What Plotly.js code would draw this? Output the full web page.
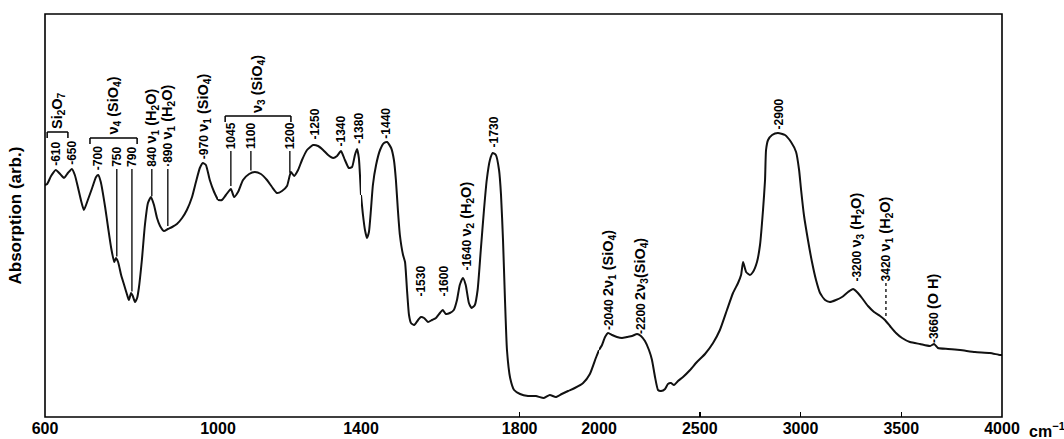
<!DOCTYPE html>
<html><head><meta charset="utf-8">
<script src="https://cdn.plot.ly/plotly-3.0.1.min.js"></script>
<style>html,body{margin:0;padding:0;background:#fff}#chart{width:1064px;height:439px}</style>
</head><body><div id="chart"></div>
<script>
// Spectrum (wavenumber in cm^-1, absorption in arbitrary units)
const wavenumber = [
600,605,614,625,635,644,653,662,669,676,683,690,699,709,718,723,729,739,746,753,760,764,769,776,783,790,794,799,803,808,813,817,824,831,838,845,852,859,866,875,884,894,905,917,928,940,949,958,965,972,981,991,1000,
1011,1022,1036,1045,1056,1070,1087,1103,1120,1137,1151,1165,1179,1193,1204,1213,1224,1235,1249,1266,1280,1294,1308,1322,1333,1344,1355,1366,1375,1383,1389,1394,1400,
1405,1410,1415,1420,1425,1430,1438,1448,1458,1466,1476,1483,1488,1493,1498,1506,1511,1516,1521,1526,1534,1544,1551,1559,1569,1579,1589,1599,1606,1614,1624,1634,1642,1649,1657,1664,1672,1679,1687,1694,1702,1710,1717,1725,1732,1740,1748,1753,1758,1763,1768,1776,1786,1801,1821,1841,1861,1876,1891,1906,1922,1939,1960,1977,1992,2000,
2015,2030,2045,2065,2089,2114,2139,2164,2189,2208,2228,2248,2263,2278,2293,2308,2328,2342,2357,2372,2392,2417,2452,2486,2526,2566,2600,2635,2665,2690,2705,2715,2730,2749,2764,2784,2799,2814,2824,2829,2839,2859,2888,2923,2953,2978,2993,3003,3017,3037,3057,3077,3097,3122,3146,3176,3206,3236,3261,3280,3305,3335,3365,3395,3419,3444,3474,3504,3543,3593,3643,3663,3682,3732,3792,3866,3940,3990,4000];
const absorption = [
232,233,241,247,243,239,244,248,242,230,217,207,217,229,240,242,235,210,189,169,155,159,155,142,132,122,117,124,121,115,119,129,157,192,214,220,212,199,191,186,188,190,193,199,207,220,235,249,254,252,237,225,217,
217,222,228,220,225,237,243,245,243,237,230,224,226,231,245,241,247,257,267,272,271,267,262,259,261,266,257,249,250,262,268,259,222,
202,187,179,185,207,232,252,267,274,275,269,257,237,207,182,162,155,127,102,94,92,97,100,99,95,97,99,104,107,103,104,107,117,132,139,132,114,109,112,127,167,207,237,257,264,262,247,222,177,117,67,39,27,23,21,21,19,22,20,23,26,29,34,43,59,67,
72,80,84,82,80,79,80,81,83,81,76,67,57,40,27,26,28,33,34,32,36,40,47,55,63,74,87,107,124,134,142,155,145,142,145,155,172,207,237,267,277,282,284,282,275,265,247,227,202,177,155,137,124,117,115,117,120,125,128,125,119,111,105,101,97,91,84,79,75,73,71,73,69,68,67,65,64,62,62];

// Axis ticks (the wavenumber scale changes at 2000 cm^-1)
const tickValues = [600,1000,1400,1800,2000,2500,3000,3500,4000];
const tickLabels = ['600','1000','1400','1800','2000','2500','3000','3500','4000'];
const segmentBreaks = [600,1000,1400,2000,4000];

// Band assignments
const bandNumbers = ['610','650','700','750','790','840','890','970','1045','1100','1200','1250','1340','1380','1440',
  '1530','1600','1640','1730','2040','2200','2900','3200','3420','3660'];
const bandAssign = ['','','','','','ν<sub>1</sub> (H<sub>2</sub>O)','ν<sub>1</sub> (H<sub>2</sub>O)',
  'ν<sub>1</sub> (SiO<sub>4</sub>)','','','','','','','','','','ν<sub>2</sub> (H<sub>2</sub>O)','',
  '2ν<sub>1</sub> (SiO<sub>4</sub>)','2ν<sub>3</sub>(SiO<sub>4</sub>)','',
  'ν<sub>3</sub> (H<sub>2</sub>O)','ν<sub>1</sub> (H<sub>2</sub>O)','(O H)'];
const bandPositions = [625,662,723,766,801,847,884,968,1036,1092,1201,1271,1344,1392,1461,1549,1607,1665,1735,2050,2208,2893,3276,3424,3658];
const groupTexts = ['Si<sub>2</sub>O<sub>7</sub>','ν<sub>4</sub> (SiO<sub>4</sub>)','ν<sub>3</sub> (SiO<sub>4</sub>)'];
const groupFrom = [605,704,1020];
const groupTo = [653,813,1204];

// ---- layout helpers ----
const bandPrefix = ['-','-','-','','','','·','-','','','','-','-','-','-','-','-','-','-','-','-','-','-','','-'];
const labelBase = [250,251,246,249,249,249,249,257,267,267,267,277,270,272,277,119,119,145,269,86,82,287,134,135,73];
const leader = {3:'solid',4:'solid',5:'solid',6:'solid',8:'solid',9:'solid',10:'solid',23:'dot'};
const groupBase = [285,279,301];

function segIndex(w){ for(let i=0;i<4;i++){ if(w<=segmentBreaks[i+1]) return i; } return 3; }
function axName(i){ return i===0 ? 'x' : 'x'+(i+1); }
function curveAt(w){
  for(let i=1;i<wavenumber.length;i++){
    if(w<=wavenumber[i]){ const t=(w-wavenumber[i-1])/(wavenumber[i]-wavenumber[i-1]); return absorption[i-1]+t*(absorption[i]-absorption[i-1]); }
  }
  return absorption[absorption.length-1];
}
function big(s){ return '<span style="font-size:14.5px">'+s+'</span>'; }

const L=45, R=1002, W=1064;
const pxBreaks=[45,218,361,599,1002];
const traces=[];
for(let s=0;s<4;s++){
  const xs=[],ys=[];
  for(let i=0;i<wavenumber.length;i++){
    if(wavenumber[i]>=segmentBreaks[s] && wavenumber[i]<=segmentBreaks[s+1]){ xs.push(wavenumber[i]); ys.push(absorption[i]); }
  }
  traces.push({x:xs,y:ys,type:'scatter',mode:'lines',xaxis:axName(s),yaxis:'y',
    line:{color:'#111',width:2,shape:'spline',smoothing:0.5},hoverinfo:'skip',showlegend:false});
}

const font={family:'Liberation Sans, Arial, sans-serif',color:'#000'};
const layout={
  width:1064,height:439,margin:{l:L,r:W-R,t:14,b:22},
  paper_bgcolor:'#fff',plot_bgcolor:'#fff',showlegend:false,
  yaxis:{range:[0,403],visible:false,fixedrange:true},
  annotations:[],shapes:[]
};
for(let s=0;s<4;s++){
  const tv=[],tt=[];
  tickValues.forEach((v,i)=>{ if(v>segmentBreaks[s] || (s===0 && v===segmentBreaks[0])) { if(v<=segmentBreaks[s+1]){ tv.push(v); tt.push(tickLabels[i]); } } });
  layout[s===0?'xaxis':'xaxis'+(s+1)]={
    domain:[(pxBreaks[s]-L)/(R-L),(pxBreaks[s+1]-L)/(R-L)],
    range:[segmentBreaks[s],segmentBreaks[s+1]],anchor:'y',
    showgrid:false,zeroline:false,showline:false,
    tickmode:'array',tickvals:tv,ticktext:tt,ticks:'inside',ticklen:5,tickwidth:1.5,tickcolor:'#000',
    tickfont:Object.assign({size:16,weight:'bold'},font),fixedrange:true
  };
}
// frame
layout.shapes.push({type:'rect',xref:'paper',yref:'paper',x0:0,x1:1,y0:0,y1:1,line:{color:'#000',width:1.6}});
// band labels
bandNumbers.forEach((n,i)=>{
  const w=bandPositions[i], ax=axName(segIndex(w));
  const t=bandPrefix[i]+n+(bandAssign[i]?' '+big(bandAssign[i]):'');
  layout.annotations.push({x:w,y:labelBase[i],xref:ax,yref:'y',text:t,textangle:-90,showarrow:false,
    xanchor:'center',yanchor:'bottom',borderpad:0,font:Object.assign({size:12,weight:'bold'},font)});
  if(leader[i]){
    layout.shapes.push({type:'line',xref:ax,yref:'y',x0:w,x1:w,y0:labelBase[i]-1,y1:curveAt(w)+3,
      line:{color:'#000',width:1.3,dash:leader[i]}});
  }
});
// group brackets
groupTexts.forEach((t,i)=>{
  const ax=axName(segIndex(groupFrom[i])), y=groupBase[i];
  layout.shapes.push({type:'line',xref:ax,yref:'y',x0:groupFrom[i],x1:groupTo[i],y0:y,y1:y,line:{color:'#000',width:1.5}});
  layout.shapes.push({type:'line',xref:ax,yref:'y',x0:groupFrom[i],x1:groupFrom[i],y0:y,y1:y-6,line:{color:'#000',width:1.5}});
  layout.shapes.push({type:'line',xref:ax,yref:'y',x0:groupTo[i],x1:groupTo[i],y0:y,y1:y-6,line:{color:'#000',width:1.5}});
  layout.annotations.push({x:(groupFrom[i]+groupTo[i])/2,y:y+2,xref:ax,yref:'y',text:t,textangle:-90,showarrow:false,
    xanchor:'center',yanchor:'bottom',borderpad:0,font:Object.assign({size:14.5,weight:'bold'},font)});
});
// unit and y title
layout.annotations.push({xref:'paper',yref:'paper',x:(1027-L)/(R-L),y:-13/403,xanchor:'left',yanchor:'middle',
  text:'cm<sup>−1</sup>',showarrow:false,font:Object.assign({size:16,weight:'bold'},font)});
layout.annotations.push({xref:'paper',yref:'paper',x:(15-L)/(R-L),y:0.5,xanchor:'center',yanchor:'middle',
  text:'Absorption (arb.)',textangle:-90,showarrow:false,font:Object.assign({size:17,weight:'bold'},font)});

Plotly.newPlot('chart',traces,layout,{staticPlot:true,displayModeBar:false});
</script></body></html>
